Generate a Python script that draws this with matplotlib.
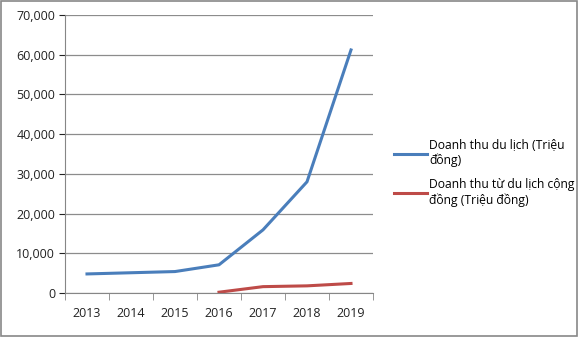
import numpy as np
import matplotlib.pyplot as plt

years = ["2013", "2014", "2015", "2016", "2017", "2018", "2019"]
tourism_revenue = [4800, 5100, 5400, 7100, 15900, 28000, 61200]
community_years = ["2016", "2017", "2018", "2019"]
community_revenue = [200, 1600, 1800, 2400]

label_blue = "Doanh thu du lịch (Triệu\nđồng)"
label_red = "Doanh thu từ du lịch cộng\nđồng (Triệu đồng)"

plt.rcParams["font.family"] = ["Open Sans", "DejaVu Sans"]

fig = plt.figure(figsize=(5.78, 3.37), dpi=100)
ax = fig.add_axes([65 / 578, 1 - 293 / 337, (373 - 65) / 578, (293 - 15) / 337])

x = np.arange(len(years))
xc = [years.index(y) for y in community_years]
ax.plot(x, tourism_revenue, color="#4a7ebb", lw=2.2, label=label_blue)
ax.plot(xc, community_revenue, color="#be4b48", lw=2.2, label=label_red)

ax.set_xlim(-0.5, len(years) - 0.5)
ax.set_ylim(0, 70000)
ax.set_yticks(np.arange(0, 70001, 10000))
ax.set_yticklabels([f"{v:,}" for v in range(0, 70001, 10000)])
ax.set_xticks(x)
ax.set_xticklabels(years)
ax.set_xticks(np.arange(-0.5, len(years)), minor=True)
ax.tick_params(axis="x", which="major", length=0, pad=10)
ax.tick_params(axis="x", which="minor", length=5, color="#868686")
ax.tick_params(axis="y", length=4, color="#868686", pad=3)
ax.tick_params(labelsize=9, colors="#222222")
ax.grid(axis="y", color="#8c8c8c", lw=0.9)
ax.set_axisbelow(True)
for s in ["top", "right"]:
    ax.spines[s].set_visible(False)
for s in ["left", "bottom"]:
    ax.spines[s].set_color("#868686")

leg = fig.legend(loc="upper left", bbox_to_anchor=(383 / 578, 1 - 128 / 337),
                 frameon=False, fontsize=8.7, handlelength=2.7, labelspacing=0.9,
                 handletextpad=0.2)

fig.patches.append(plt.Rectangle((0.001, 0.002), 0.997, 0.996, transform=fig.transFigure,
                                 fill=False, edgecolor="#888888", lw=1.2))

fig.savefig("out.png", dpi=100)
